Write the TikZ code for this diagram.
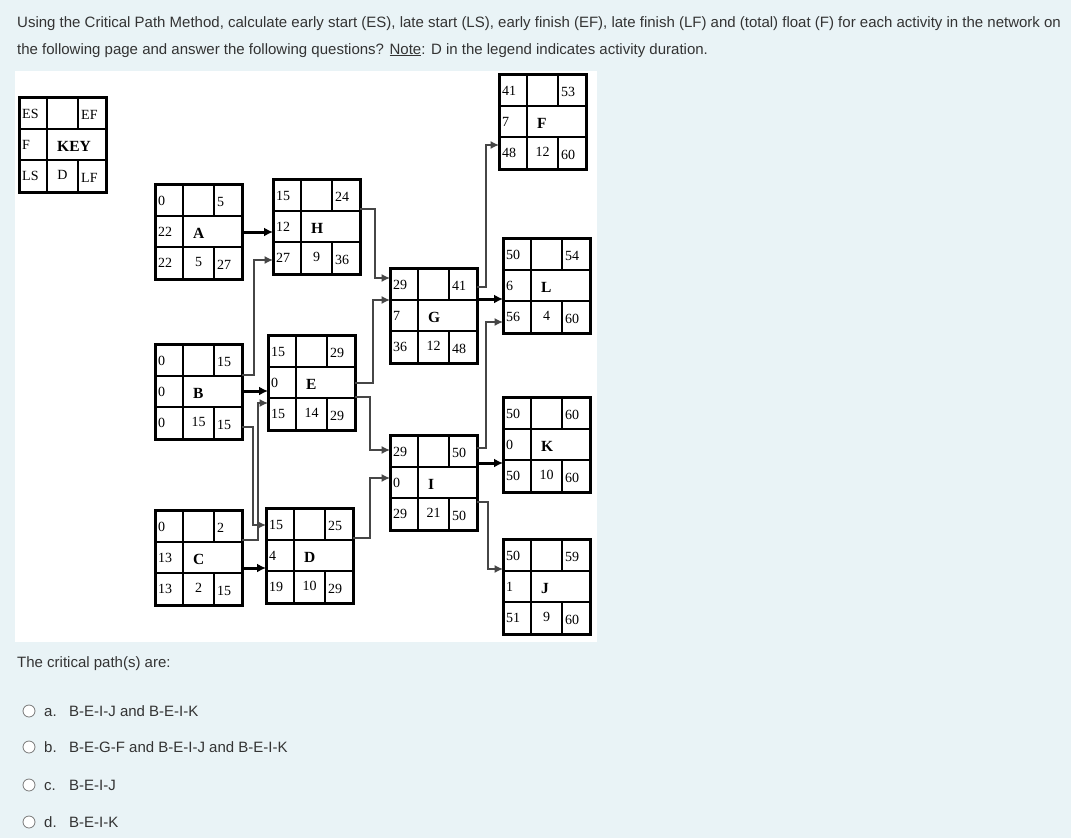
\documentclass[tikz,border=0pt]{standalone}
\usepackage{fontspec}
\setmainfont{Liberation Serif}
\newfontfamily\hdrfont{Liberation Sans}
\usetikzlibrary{calc,arrows.meta}
\definecolor{pagebg}{RGB}{233,243,246}
\definecolor{txt}{RGB}{51,51,51}
\definecolor{radio}{RGB}{120,120,120}
\definecolor{linkc}{RGB}{70,70,70}
\tikzset{
  actbox/.style={draw=black, line width=3pt, minimum width=87pt, minimum height=95pt, inner sep=0pt, outer sep=0pt},
  cellline/.style={draw=black, line width=1.2pt},
  heavy/.style={draw=black, line width=2.8pt},
  num/.style={font=\fontsize{14}{13}\selectfont, inner sep=0pt, text=black},
  title/.style={font=\fontsize{15.5}{14}\selectfont\bfseries, inner sep=0pt, text=black},
  crit/.style={draw=black, line width=3pt, -{Latex[length=9pt,width=9pt]}},
  link/.style={draw=linkc, line width=1.3pt, -{Latex[length=8.5pt,width=8pt]}},
  hdr/.style={font=\hdrfont\fontsize{15}{17}\selectfont, text=txt, inner sep=0pt, anchor=base west},
  radiobtn/.style={circle, draw=radio, fill=white, line width=0.8pt, minimum size=12pt, inner sep=0pt},
}
\newcommand\actbox[9]{%
  \node[actbox, anchor=north west] (#1) at #2 {};
  \draw[cellline] ($(#1.north west)+(0,32)$) -- ($(#1.north east)+(0,32)$);
  \draw[cellline] ($(#1.north west)+(0,63)$) -- ($(#1.north east)+(0,63)$);
  \draw[cellline] ($(#1.north west)+(28,0)$) -- ($(#1.south west)+(28,0)$);
  \draw[cellline] ($(#1.north west)+(59,0)$) -- ++(0,32);
  \draw[cellline] ($(#1.north west)+(59,63)$) -- ($(#1.south west)+(59,0)$);
  \draw[heavy] ($(#1.north west)+(28,31)$) -- ++(0,34);
  \node[num, anchor=west] (#1es) at ($(#1.north west)+(3,17)$) {#3};
  \node[num, anchor=west] (#1ef) at ($(#1.north west)+(62,18)$) {#4};
  \node[num, anchor=west] (#1fl) at ($(#1.north west)+(3,48)$) {#5};
  \node[title, anchor=west] (#1nm) at ($(#1.north west)+(38,49)$) {#6};
  \node[num, anchor=west] (#1ls) at ($(#1.north west)+(3,79)$) {#7};
  \node[num] (#1du) at ($(#1.north west)+(43.5,78)$) {#8};
  \node[num, anchor=west] (#1lf) at ($(#1.north west)+(62,81)$) {#9};
}
\begin{document}
\begin{tikzpicture}[x=1pt,y=-1pt]
\fill[pagebg] (0,0) rectangle (1071,838);
\useasboundingbox (0,0) rectangle (1071,838);
\fill[white] (15,71) rectangle (597,642);

\node[hdr] (h1) at (17,27) {Using the Critical Path Method, calculate early start (ES), late start (LS), early finish (EF), late finish (LF) and (total) float (F) for each activity in the network on};
\node[hdr] (h2) at (17,54) {the following page and answer the following questions? \underline{Note}: D in the legend indicates activity duration.};

% legend
\actbox{key}{(19,97)}{ES}{EF}{F}{KEY}{LS}{D}{LF}

% activities
\actbox{A}{(155,184)}{0}{5}{22}{A}{22}{5}{27}
\actbox{H}{(273,179)}{15}{24}{12}{H}{27}{9}{36}
\actbox{B}{(155,344)}{0}{15}{0}{B}{0}{15}{15}
\actbox{E}{(268,335)}{15}{29}{0}{E}{15}{14}{29}
\actbox{C}{(155,510)}{0}{2}{13}{C}{13}{2}{15}
\actbox{D}{(266,508)}{15}{25}{4}{D}{19}{10}{29}
\actbox{G}{(390,268)}{29}{41}{7}{G}{36}{12}{48}
\actbox{I}{(390,435)}{29}{50}{0}{I}{29}{21}{50}
\actbox{F}{(499,74)}{41}{53}{7}{F}{48}{12}{60}
\actbox{L}{(503,238)}{50}{54}{6}{L}{56}{4}{60}
\actbox{K}{(503,397)}{50}{60}{0}{K}{50}{10}{60}
\actbox{J}{(503,539)}{50}{59}{1}{J}{51}{9}{60}

% critical (thick) arrows
\coordinate (ca) at ($(A.north east)+(0,48)$);
\coordinate (cb) at ($(B.north east)+(0,47)$);
\coordinate (cc) at ($(C.north east)+(0,58)$);
\coordinate (cg) at ($(G.north east)+(0,31)$);
\coordinate (ci) at ($(I.north east)+(0,28)$);
\draw[crit] (ca) -- (ca -| H.west);
\draw[crit] (cb) -- (cb -| E.west);
\draw[crit] (cc) -- (cc -| D.west);
\draw[crit] (cg) -- (cg -| L.west);
\draw[crit] (ci) -- (ci -| K.west);

% other links
\draw[link] ($(B.north east)+(0,31)$) -- ++(12,0) |- ($(H.north west)+(0,81)$);
\draw[link] ($(B.north east)+(0,83)$) -- ++(11,0) |- ($(D.north west)+(0,17)$);
\draw[link] ($(C.north east)+(0,30)$) -- ++(16,0) |- ($(E.north west)+(0,68)$);
\draw[link] ($(H.north east)+(0,30)$) -- ++(15,0) |- ($(G.north west)+(0,10)$);
\draw[link] ($(E.north east)+(0,48)$) -- ++(18,0) |- ($(G.north west)+(0,32)$);
\draw[link] ($(E.north east)+(0,62)$) -- ++(15,0) |- ($(I.north west)+(0,15)$);
\draw[link] ($(D.north east)+(0,30)$) -- ++(17,0) |- ($(I.north west)+(0,43)$);
\draw[link] ($(G.north east)+(0,19)$) -- ++(9,0) |- ($(F.north west)+(0,71)$);
\draw[link] ($(I.north east)+(0,13)$) -- ++(9,0) |- ($(L.north west)+(0,84)$);
\draw[link] ($(I.north east)+(0,67)$) -- ++(11,0) |- ($(J.north west)+(0,30)$);

% question
\node[hdr] (q) at (17,667) {The critical path(s) are:};
\node[radiobtn] (ra) at (29,711) {};
\node[radiobtn] (rb) at (29,747) {};
\node[radiobtn] (rc) at (29,785) {};
\node[radiobtn] (rd) at (29,822) {};
\node[hdr] (la) at (44,716) {a.};
\node[hdr] (lb) at (44,752) {b.};
\node[hdr] (lc) at (44,790) {c.};
\node[hdr] (ld) at (44,827) {d.};
\node[hdr] (ta) at (69,716) {B-E-I-J and B-E-I-K};
\node[hdr] (tb) at (69,752) {B-E-G-F and B-E-I-J and B-E-I-K};
\node[hdr] (tc) at (69,790) {B-E-I-J};
\node[hdr] (td) at (69,827) {B-E-I-K};
\end{tikzpicture}
\end{document}
